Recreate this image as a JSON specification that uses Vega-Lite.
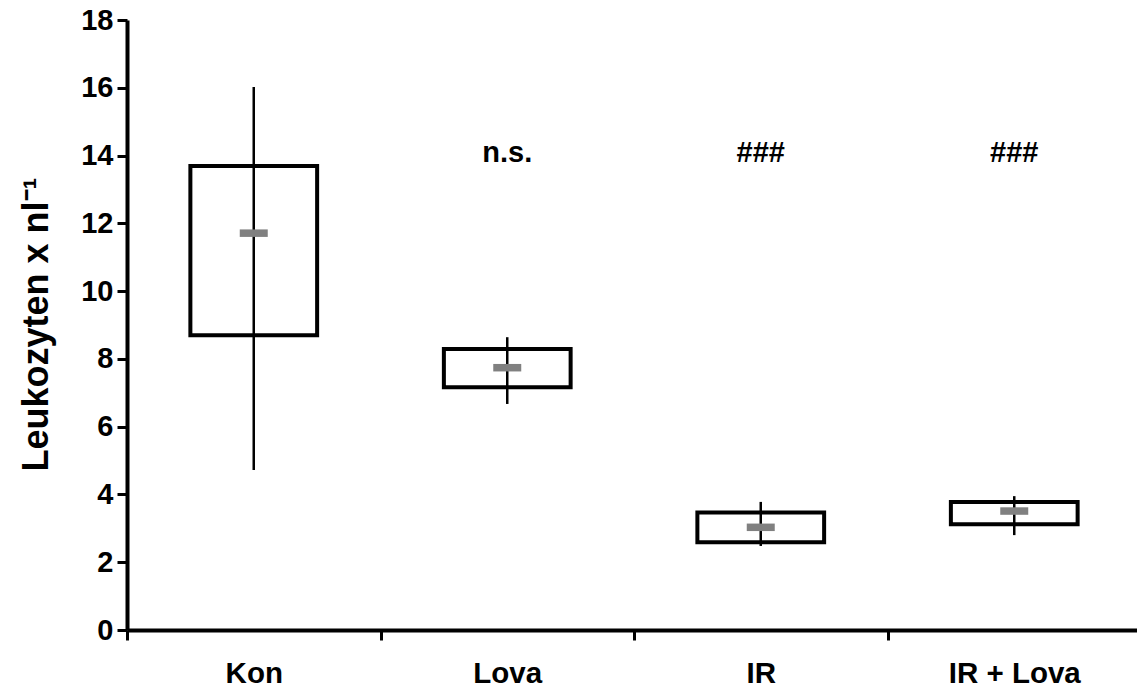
{
  "$schema": "https://vega.github.io/schema/vega-lite/v6.json",
  "autosize": {"type": "none"},
  "width": 1014,
  "height": 610,
  "padding": {"left": 127, "top": 20, "right": 0, "bottom": 63},
  "background": "white",
  "config": {
    "view": {"stroke": null},
    "font": "Liberation Sans",
    "axis": {
      "grid": false,
      "domainColor": "black",
      "tickColor": "black",
      "labelColor": "black",
      "titleColor": "black",
      "labelFont": "Liberation Sans",
      "titleFont": "Liberation Sans",
      "labelFontWeight": "bold",
      "titleFontWeight": "bold"
    }
  },
  "data": {
    "values": [
      {"group": "Kon", "min": 4.72, "q1": 8.7, "median": 11.71, "q3": 13.69, "max": 16.02, "note": ""},
      {"group": "Lova", "min": 6.67, "q1": 7.16, "median": 7.74, "q3": 8.29, "max": 8.64, "note": "n.s."},
      {"group": "IR", "min": 2.48, "q1": 2.59, "median": 3.03, "q3": 3.47, "max": 3.78, "note": "###"},
      {"group": "IR + Lova", "min": 2.8, "q1": 3.12, "median": 3.51, "q3": 3.78, "max": 3.95, "note": "###"}
    ]
  },
  "encoding": {
    "x": {
      "field": "group",
      "type": "nominal",
      "sort": ["Kon", "Lova", "IR", "IR + Lova"],
      "scale": {"paddingInner": 0, "paddingOuter": 0},
      "axis": {
        "title": null,
        "labelAngle": 0,
        "labelFontSize": 29.5,
        "labelPadding": 19,
        "domainWidth": 4,
        "tickWidth": 3,
        "tickSize": 10,
        "tickBand": "extent"
      }
    }
  },
  "layer": [
    {
      "mark": {"type": "bar", "fill": "white", "stroke": "black", "strokeWidth": 4, "width": {"band": 0.5}},
      "encoding": {
        "y": {
          "field": "q1",
          "type": "quantitative",
          "scale": {"domain": [0, 18], "nice": false},
          "axis": {
            "title": "Leukozyten x nl⁻¹",
            "values": [0, 2, 4, 6, 8, 10, 12, 14, 16, 18],
            "labelFontSize": 29,
            "labelPadding": 4,
            "domainWidth": 4,
            "tickWidth": 3,
            "tickSize": 10,
            "titleFontSize": 36,
            "titleAngle": -90,
            "titleBaseline": "alphabetic",
            "titleX": -80,
            "titleY": 304,
            "titleAnchor": "middle"
          }
        },
        "y2": {"field": "q3"}
      }
    },
    {
      "mark": {"type": "rule", "color": "black", "strokeWidth": 2.5},
      "encoding": {
        "y": {"field": "min", "type": "quantitative"},
        "y2": {"field": "max"}
      }
    },
    {
      "mark": {"type": "tick", "color": "#808080", "opacity": 1, "thickness": 7.5, "size": 28},
      "encoding": {
        "y": {"field": "median", "type": "quantitative"}
      }
    },
    {
      "mark": {"type": "text", "fontSize": 29, "fontWeight": "bold", "color": "black", "baseline": "middle"},
      "encoding": {
        "y": {"datum": 14.07},
        "text": {"field": "note"}
      }
    }
  ]
}
